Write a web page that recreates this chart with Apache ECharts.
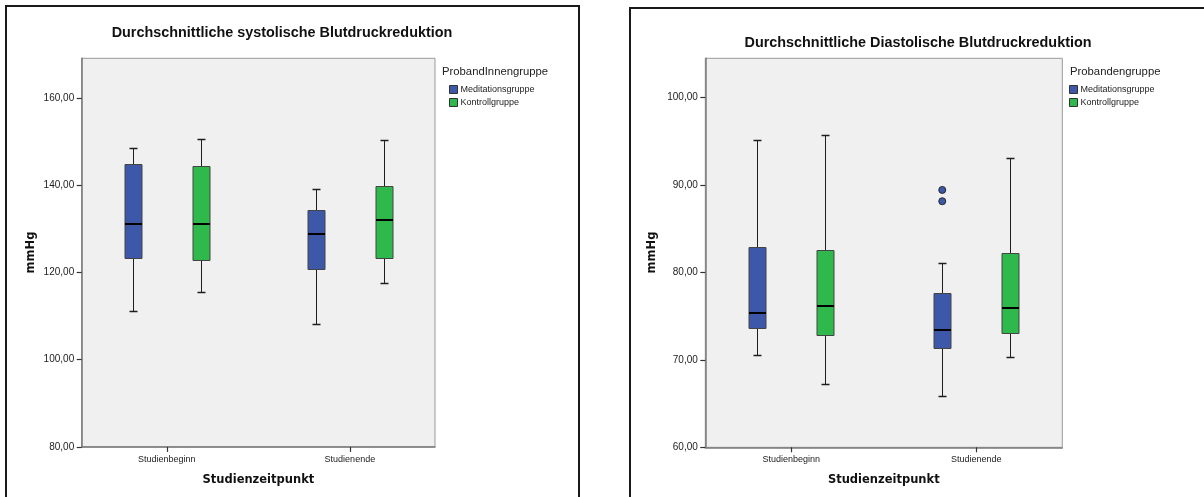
<!DOCTYPE html>
<html>
<head>
<meta charset="utf-8">
<title>Blutdruckreduktion</title>
<script src="https://cdn.jsdelivr.net/npm/echarts@6/dist/echarts.min.js"></script>
<style>
  html, body { margin: 0; padding: 0; background: #ffffff; }
  #chart { width: 1204px; height: 497px; }
</style>
</head>
<body>
<div id="chart"></div>
<script>
// Study time points (x axis categories)
const categories = ['Studienbeginn', 'Studienende'];
const groupNames = ['Meditationsgruppe', 'Kontrollgruppe'];

// Systolic: one row per time point -> [min, Q1, median, Q3, max]
const sysMeditation = [
  [111.1, 123.3, 131.2, 144.9, 148.5],
  [108.2, 120.8, 128.9, 134.2, 139.1]
];
const sysKontroll = [
  [115.5, 122.8, 131.1, 144.4, 150.5],
  [117.6, 123.3, 132.1, 139.8, 150.3]
];

// Diastolic: one row per time point -> [min, Q1, median, Q3, max]
const diaMeditation = [
  [70.6, 73.65, 75.33, 82.95, 95.13],
  [65.84, 71.40, 73.42, 77.69, 81.12]
];
const diaKontroll = [
  [67.28, 72.88, 76.20, 82.57, 95.73],
  [70.30, 73.11, 75.94, 82.27, 93.10]
];

// Outliers of the meditation group (time point index, value)
const diaMeditationOutlierCats = [1, 1];
const diaMeditationOutlierVals = [89.44, 88.15];

// Y axis tick values
const sysTicks = [80, 100, 120, 140, 160];
const diaTicks = [60, 70, 80, 90, 100];

const BLUE = '#3d57a9';
const GREEN = '#2fb84b';
const BOX_W = 17;
const CAP_HALF = 4;
const GROUP_OFFSET = 0.184; // horizontal shift of each group inside a time point (axis units)

function fmtTick(v) { return v.toFixed(2).replace('.', ','); }

function toRows(stats) {
  return stats.map(function (s, i) { return [i].concat(s); });
}

function crisp(v) { return Math.round(v) + 0.5; }

function boxRenderer(offset, color) {
  return function (params, api) {
    const cat = api.value(0);
    const unit = api.size([1, 0])[0];
    const xc = crisp(api.coord([cat, api.value(3)])[0] + offset * unit);
    const yMin = crisp(api.coord([cat, api.value(1)])[1]);
    const yQ1 = crisp(api.coord([cat, api.value(2)])[1]);
    const yMed = Math.round(api.coord([cat, api.value(3)])[1]);
    const yQ3 = crisp(api.coord([cat, api.value(4)])[1]);
    const yMax = crisp(api.coord([cat, api.value(5)])[1]);
    const half = BOX_W / 2;
    const lineStyle = { stroke: '#1e1e1e', lineWidth: 1 };
    return {
      type: 'group',
      children: [
        { type: 'line', shape: { x1: xc, y1: yMax, x2: xc, y2: yQ3 }, style: lineStyle },
        { type: 'line', shape: { x1: xc, y1: yQ1, x2: xc, y2: yMin }, style: lineStyle },
        { type: 'line', shape: { x1: xc - CAP_HALF, y1: yMax, x2: xc + CAP_HALF, y2: yMax }, style: { stroke: '#1e1e1e', lineWidth: 1.5 } },
        { type: 'line', shape: { x1: xc - CAP_HALF, y1: yMin, x2: xc + CAP_HALF, y2: yMin }, style: { stroke: '#1e1e1e', lineWidth: 1.5 } },
        { type: 'rect', shape: { x: xc - half, y: yQ3, width: BOX_W, height: yQ1 - yQ3 },
          style: { fill: color, stroke: '#444444', lineWidth: 1 } },
        { type: 'line', shape: { x1: xc - half, y1: yMed, x2: xc + half, y2: yMed },
          style: { stroke: '#000000', lineWidth: 2 } }
      ]
    };
  };
}

function outlierRenderer(offset, color) {
  return function (params, api) {
    const cat = api.value(0);
    const unit = api.size([1, 0])[0];
    const p = api.coord([cat, api.value(1)]);
    return {
      type: 'circle',
      shape: { cx: p[0] + offset * unit, cy: p[1], r: 3.5 },
      style: { fill: color, stroke: '#2a2a2a', lineWidth: 1 }
    };
  };
}

function boxSeries(name, color, gridIdx, stats, offset) {
  return {
    name: name,
    type: 'custom',
    xAxisIndex: gridIdx,
    yAxisIndex: gridIdx,
    itemStyle: { color: color },
    encode: { x: 0, y: [1, 2, 3, 4, 5] },
    data: toRows(stats),
    renderItem: boxRenderer(offset, color),
    silent: true
  };
}

function xAxisFor(gridIdx) {
  return {
    type: 'value',
    gridIndex: gridIdx,
    min: -0.465,
    max: 1.465,
    splitLine: { show: false },
    axisLine: { show: true, onZero: false, lineStyle: { color: '#7a7a7a', width: 1.5 } },
    axisTick: { show: true, length: 5, customValues: [0, 1], lineStyle: { color: '#333333', width: 1.2 } },
    axisLabel: {
      customValues: [0, 1],
      margin: 8,
      fontSize: 9,
      fontFamily: 'Liberation Sans, Arial, sans-serif',
      color: '#222222',
      formatter: function (v) { return categories[Math.round(v)]; }
    }
  };
}

function yAxisFor(gridIdx, ticks, min, max) {
  return {
    type: 'value',
    gridIndex: gridIdx,
    position: 'left',
    min: min,
    max: max,
    splitLine: { show: false },
    axisLine: { show: true, onZero: false, lineStyle: { color: '#7a7a7a', width: 1.5 } },
    axisTick: { show: true, length: 5, customValues: ticks, lineStyle: { color: '#333333', width: 1.2 } },
    axisLabel: {
      customValues: ticks,
      margin: 7.5,
      fontSize: 10,
      fontFamily: 'Liberation Sans, Arial, sans-serif',
      color: '#222222',
      formatter: fmtTick
    }
  };
}

function legendFor(left) {
  return {
    orient: 'vertical',
    left: left,
    top: 85,
    padding: 0,
    itemWidth: 8,
    itemHeight: 8,
    itemGap: 4,
    icon: 'rect',
    selectedMode: false,
    data: groupNames,
    itemStyle: { borderColor: '#333333', borderWidth: 1 },
    textStyle: { fontSize: 9, fontFamily: 'Liberation Sans, Arial, sans-serif', color: '#222222', padding: [0, 0, 0, -2] }
  };
}

function text(x, y, str, opts) {
  return Object.assign({
    type: 'text',
    x: x,
    y: y,
    style: Object.assign({
      text: str,
      fill: '#111111',
      align: 'center',
      verticalAlign: 'middle',
      font: 'bold 14.4px "Liberation Sans", Arial, sans-serif'
    }, opts && opts.style)
  }, opts && opts.el);
}

const chart = echarts.init(document.getElementById('chart'), null, { renderer: 'canvas' });

const option = {
  backgroundColor: '#ffffff',
  animation: false,
  grid: [
    { left: 81.7, top: 58.3, width: 353.3, height: 388.6, show: true,
      backgroundColor: '#f0f0f0', borderColor: '#9a9a9a', borderWidth: 1 },
    { left: 705.3, top: 58.3, width: 357, height: 389, show: true,
      backgroundColor: '#f0f0f0', borderColor: '#9a9a9a', borderWidth: 1 }
  ],
  xAxis: [xAxisFor(0), xAxisFor(1)],
  yAxis: [
    yAxisFor(0, sysTicks, 80, 169.08),
    yAxisFor(1, diaTicks, 60, 104.5)
  ],
  legend: [legendFor(449), legendFor(1069)],
  series: [
    boxSeries(groupNames[0], BLUE, 0, sysMeditation, -GROUP_OFFSET),
    boxSeries(groupNames[1], GREEN, 0, sysKontroll, GROUP_OFFSET),
    boxSeries(groupNames[0], BLUE, 1, diaMeditation, -GROUP_OFFSET),
    boxSeries(groupNames[1], GREEN, 1, diaKontroll, GROUP_OFFSET),
    {
      name: groupNames[0],
      type: 'custom',
      xAxisIndex: 1,
      yAxisIndex: 1,
      itemStyle: { color: BLUE },
      encode: { x: 0, y: 1 },
      data: diaMeditationOutlierCats.map(function (c, i) { return [c, diaMeditationOutlierVals[i]]; }),
      renderItem: outlierRenderer(-GROUP_OFFSET, BLUE),
      silent: true
    }
  ],
  graphic: [
    // panel frames
    { type: 'rect', shape: { x: 6, y: 6, width: 573, height: 530 },
      style: { fill: null, stroke: '#1a1a1a', lineWidth: 2 }, silent: true },
    { type: 'rect', shape: { x: 630, y: 8, width: 620, height: 530 },
      style: { fill: null, stroke: '#1a1a1a', lineWidth: 2 }, silent: true },
    // chart titles
    text(282, 33, 'Durchschnittliche systolische Blutdruckreduktion'),
    text(918, 43, 'Durchschnittliche Diastolische Blutdruckreduktion'),
    // legend headings
    text(442, 71.5, 'ProbandInnengruppe', { style: { align: 'left', fill: '#222222', font: '11.3px "Liberation Sans", Arial, sans-serif' } }),
    text(1070, 71.5, 'Probandengruppe', { style: { align: 'left', fill: '#222222', font: '11.3px "Liberation Sans", Arial, sans-serif' } }),
    // axis titles
    text(258.4, 480.5, 'Studienzeitpunkt', { style: { font: 'bold 11.5px "DejaVu Sans", Verdana, sans-serif' } }),
    text(883.8, 480.5, 'Studienzeitpunkt', { style: { font: 'bold 11.5px "DejaVu Sans", Verdana, sans-serif' } }),
    text(31, 252.5, 'mmHg', { style: { font: 'bold 11.5px "DejaVu Sans", Verdana, sans-serif' }, el: { rotation: Math.PI / 2 } }),
    text(652, 252.5, 'mmHg', { style: { font: 'bold 11.5px "DejaVu Sans", Verdana, sans-serif' }, el: { rotation: Math.PI / 2 } })
  ]
};

chart.setOption(option);
</script>
</body>
</html>
